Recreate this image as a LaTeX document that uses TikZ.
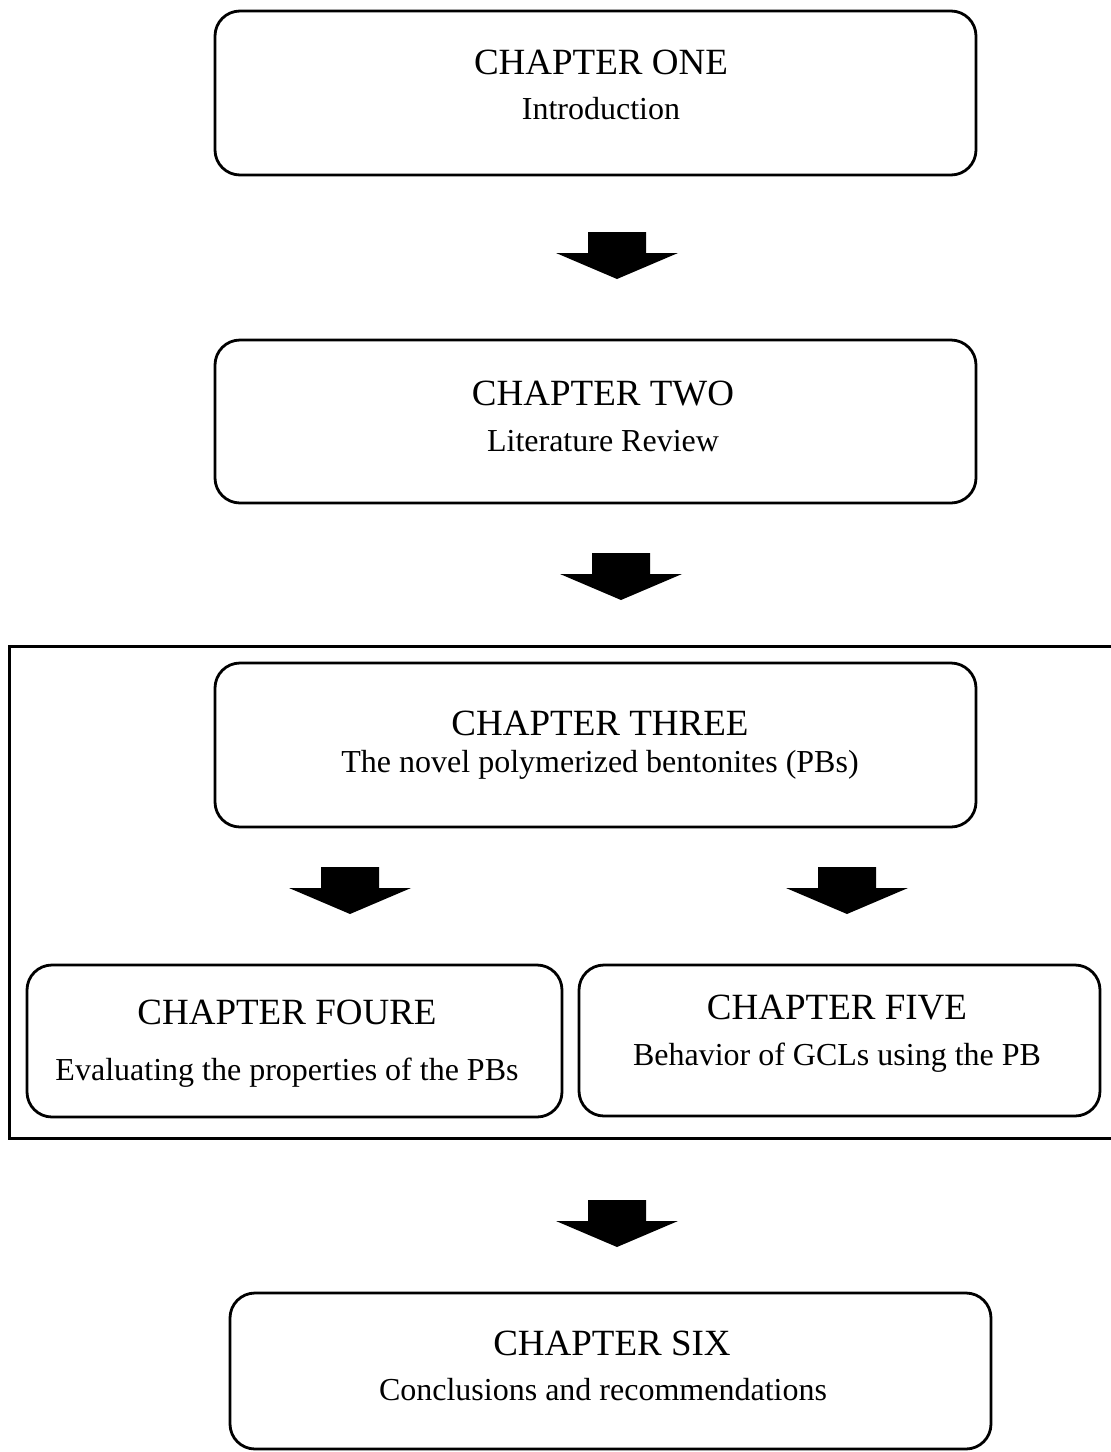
\documentclass[tikz,border=0pt]{standalone}
\usepackage{fontspec}
\setmainfont{Liberation Serif}
\begin{document}
\begin{tikzpicture}[x=0.5pt,y=-0.5pt,
  chapbox/.style={draw,line width=1.4pt,rounded corners=12.5pt,inner sep=0pt},
  frame/.style={draw,line width=1.5pt},
  chaptitle/.style={anchor=base,inner sep=0pt,font=\fontsize{18.5pt}{22pt}\selectfont},
  chapsub/.style={anchor=base,inner sep=0pt,font=\fontsize{16pt}{19pt}\selectfont},
  downarrow/.pic={\fill (-29,0) -- (29,0) -- (29,21) -- (61,21) -- (0,47) -- (-61,21) -- (-29,21) -- cycle;}]
\useasboundingbox (0,0) rectangle (1111,1452);

% outer frame around chapters three to five
\draw[frame] (1130,646) -- (9,646) -- (9,1138) -- (1130,1138);

% chapter boxes
\node[chapbox,minimum width=761pt*0.5,minimum height=164pt*0.5] (one) at (595.5,93) {};
\node[chapbox,minimum width=761pt*0.5,minimum height=163pt*0.5] (two) at (595.5,421.5) {};
\node[chapbox,minimum width=761pt*0.5,minimum height=164pt*0.5] (three) at (595.5,745) {};
\node[chapbox,minimum width=535pt*0.5,minimum height=152pt*0.5] (four) at (294.5,1041) {};
\node[chapbox,minimum width=521pt*0.5,minimum height=151pt*0.5] (five) at (839.5,1040.5) {};
\node[chapbox,minimum width=761pt*0.5,minimum height=156pt*0.5] (six) at (610.5,1371) {};

% chapter titles and subtitles
\node[chaptitle] (t1) at (601,74) {CHAPTER ONE};
\node[chapsub] (s1) at (601,119) {Introduction};
\node[chaptitle] (t2) at (603,405) {CHAPTER TWO};
\node[chapsub] (s2) at (603,451) {Literature Review};
\node[chaptitle] (t3) at (600,735) {CHAPTER THREE};
\node[chapsub] (s3) at (600,772) {The novel polymerized bentonites (PBs)};
\node[chaptitle] (t4) at (287,1024) {CHAPTER FOURE};
\node[chapsub] (s4) at (287,1080) {Evaluating the properties of the PBs};
\node[chaptitle] (t5) at (837,1019) {CHAPTER FIVE};
\node[chapsub] (s5) at (837,1065) {Behavior of GCLs using the PB};
\node[chaptitle] (t6) at (612,1355) {CHAPTER SIX};
\node[chapsub] (s6) at (603,1400) {Conclusions and recommendations};

% block arrows between chapters
\pic at (617,232) {downarrow};
\pic at (621,553) {downarrow};
\pic at (350,867) {downarrow};
\pic at (847,867) {downarrow};
\pic at (617,1200) {downarrow};
\end{tikzpicture}
\end{document}
